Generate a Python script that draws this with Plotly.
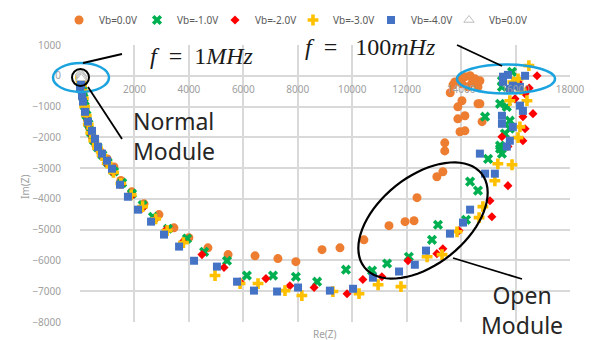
import math
import plotly.graph_objects as go

# ---------------- data (Re(Z), Im(Z)) ----------------
vb0_re = [15, 35, 55, 80, 110, 150, 200, 270, 350, 450, 580, 760, 1000, 1250, 1500, 1900, 2350, 2900,
          3450, 4000, 4700, 5440, 6430, 7270, 7930, 8890, 9550, 10430, 11350, 11940, 12270, 12380, 13110,
          13330, 13400, 13400, 13960, 14140, 13880, 14140, 14770, 14690, 14030, 13880, 13960, 14140, 14330,
          14510, 14690, 14030, 14250, 14400, 14620, 13770, 13600, 13700, 14620]
vb0_im = [-30, -130, -270, -430, -640, -880, -1150, -1420, -1700, -1980, -2250, -2480, -2700, -2960, -3400,
          -3770, -4160, -4510, -4940, -5260, -5590, -5810, -5850, -5940, -6040, -5650, -5590, -5330, -4870,
          -4740, -4710, -3960, -3280, -3120, -2440, -2180, -1820, -1790, -1400, -1300, -1490, -910, -810,
          -1010, -100, -30, 0, -100, -160, -260, -360, -230, -360, -200, -550, -300, -910]

vb1_re = [20, 40, 65, 95, 130, 175, 235, 310, 400, 510, 650, 820, 1020, 1250, 1550, 1910, 2300, 2680,
          3230, 3930, 4560, 5400, 6130, 7090, 7930, 8710, 9770, 10730, 11280, 12080, 12930, 13150, 14180,
          14330, 14620, 14990, 15430, 15500, 14880, 15430, 15680, 15500, 15500, 15790, 15790, 15870, 15610,
          15430]
vb1_im = [-50, -170, -310, -490, -720, -990, -1280, -1560, -1840, -2100, -2330, -2570, -2820, -3110, -3480,
          -3830, -4200, -4580, -4970, -5290, -5720, -6010, -6490, -6490, -6530, -6690, -6300, -6330, -6100,
          -5880, -5330, -4840, -4680, -3440, -3730, -2700, -2370, -2530, -1330, -910, -1010, -160, -360,
          -1460, -1720, 130, -1880, -2270]

vb2_re = [20, 40, 62, 92, 128, 172, 232, 300, 390, 500, 640, 800, 990, 1220, 1520, 1900, 2300, 2750,
          3160, 3780, 4480, 5290, 5880, 6830, 7710, 8600, 9810, 10390, 11090, 12050, 13110, 13330, 13920,
          15130, 15060, 15720, 15500, 16270, 16350, 16270, 16640, 16350, 16790, 15980, 15720, 16100, 16500]
vb2_im = [-55, -175, -320, -500, -740, -1010, -1300, -1590, -1870, -2120, -2360, -2600, -2860, -3150, -3530,
          -3900, -4300, -4680, -5000, -5390, -5810, -6230, -6690, -6590, -6820, -6880, -7080, -6620, -6530,
          -6010, -5780, -5620, -5030, -4580, -4060, -3570, -1980, -2110, -1720, -1330, -1230, -580, 0, -750,
          -2300, -200, -400]

vb3_re = [20, 40, 60, 90, 125, 170, 230, 305, 395, 505, 645, 810, 1000, 1230, 1500, 1880, 2300, 2780,
          3200, 3800, 4960, 5880, 6540, 7530, 8150, 9290, 10250, 10950, 11790, 12750, 13300, 13850, 14660,
          14800, 15240, 15350, 15870, 16090, 16160, 16420, 15790, 15900, 16090, 16490, 16200]
vb3_im = [-45, -165, -315, -500, -730, -1000, -1290, -1580, -1860, -2110, -2350, -2590, -2840, -3140, -3500,
          -3870, -4250, -4650, -5030, -5420, -6490, -6750, -6750, -6980, -7140, -7010, -7080, -6790, -6850,
          -5880, -5810, -5070, -4610, -4250, -3410, -2860, -2890, -2010, -1660, -810, -810, -200, -100, 330,
          -450]

vb4_re = [15, 30, 45, 0, 73, 110, 184, 294, 441, 551, 661, 808, 992, 1175, 1470, 1760, 2130, 2610, 3085,
          3640, 4190, 5030, 5770, 6390, 7240, 8010, 9180, 10030, 10760, 11720, 12300, 12710, 13590, 14070,
          14330, 14880, 15240, 14690, 15680, 15790, 15500, 15900, 15500, 16270, 16160, 15540, 15720, 16350,
          15900, 16160, 15540, 15790]
vb4_im = [-40, -150, -280, -420, -650, -840, -1170, -1490, -1790, -2050, -2310, -2530, -2760, -3020, -3540,
          -3930, -4350, -4740, -5160, -5550, -6010, -6200, -6690, -6980, -7010, -6880, -6980, -6920, -6560,
          -6360, -6140, -5680, -5130, -4770, -4350, -3180, -3180, -2530, -2300, -2110, -1560, -1660, -1300,
          -1140, -970, -30, 30, 0, -320, -360, -200, -420]

normal_re = [20, 40, 55, 60, 45]
normal_im = [100, 60, 20, -30, -80]

x_ticks = [0, 2000, 4000, 6000, 8000, 10000, 12000, 14000, 16000, 18000]
x_ticktext = ["", "2000", "4000", "6000", "8000", "10000", "12000", "14000", "16000", "18000"]
y_ticks = [1000, 0, -1000, -2000, -3000, -4000, -5000, -6000, -7000, -8000]

# ---------------- figure ----------------
W, H = 595, 340
L, R, T, B = 80, 25, 45, 18
PW, PH = W - L - R, H - T - B


def px(xp):
    return (xp - L) / PW


def py(yp):
    return (H - B - yp) / PH


fig = go.Figure()
series = [
    ("Vb=0.0V", vb0_re, vb0_im, dict(symbol="circle", size=9, color="#ED7D31")),
    ("Vb=-1.0V", vb1_re, vb1_im, dict(symbol="x", size=9, color="#00B050")),
    ("Vb=-2.0V", vb2_re, vb2_im, dict(symbol="diamond", size=7, color="#FF0000")),
    ("Vb=-3.0V", vb3_re, vb3_im, dict(symbol="cross", size=9, color="#FFC000")),
    ("Vb=-4.0V", vb4_re, vb4_im, dict(symbol="square", size=8, color="#4472C4")),
    ("Vb=0.0V", normal_re, normal_im, dict(symbol="triangle-up", size=9, color="#FFFFFF",
                                           line=dict(color="#BFBFBF", width=1))),
]
for name, xs, ys, mk in series:
    if "line" not in mk:
        mk = dict(mk, line=dict(width=0))
    fig.add_trace(go.Scatter(x=xs, y=ys, mode="markers", name=name, marker=mk, cliponaxis=False))

grid = "#D9D9D9"
fig.update_layout(
    width=W, height=H, margin=dict(l=L, r=R, t=T, b=B, autoexpand=False),
    paper_bgcolor="white", plot_bgcolor="white",
    font=dict(family="Noto Sans", size=10, color="#808080"),
    showlegend=True,
    legend=dict(orientation="h", x=px(59), xanchor="left", y=py(20), yanchor="middle",
                font=dict(size=10, color="#595959"), entrywidth=33, entrywidthmode="pixels",
                itemwidth=30, tracegroupgap=0),
    xaxis=dict(range=[0, 18000], tickvals=x_ticks, ticktext=x_ticktext, showgrid=True,
               gridcolor=grid, gridwidth=1.5, zeroline=False, anchor="free",
               position=8000 / 9000, showline=False, ticks="", ticklabelstandoff=6,
               tickfont=dict(size=10, color="#A0A0A0")),
    yaxis=dict(range=[-8000, 1000], tickvals=y_ticks, showgrid=True, gridcolor=grid,
               gridwidth=1.5, zeroline=False, showline=False, ticks="", ticklabelstandoff=18,
               tickfont=dict(size=10, color="#A0A0A0")),
)


def note(text, x, y, font, **kw):
    fig.add_annotation(text=text, xref="paper", yref="paper", x=px(x), y=py(y), showarrow=False,
                       xanchor=kw.pop("xanchor", "center"), yanchor="middle", font=font, **kw)


# axis titles
note("Re(Z)", 325, 334, dict(size=10, color="#A0A0A0"))
note("Im(Z)", 25, 187, dict(size=10, color="#A0A0A0"), textangle=-90)

# decorations
cyan = "#1AA3DF"


def ellipse_shape(cx, cy, rx, ry, color, width):
    return dict(type="circle", xref="paper", yref="paper", x0=px(cx - rx), x1=px(cx + rx),
                y0=py(cy + ry), y1=py(cy - ry), line=dict(color=color, width=width))


fig.add_shape(**ellipse_shape(81, 77.5, 28, 14.5, cyan, 2.5))
fig.add_shape(**ellipse_shape(80.5, 77.5, 8.5, 8.5, "black", 2))
fig.add_shape(**ellipse_shape(506, 79, 49, 14.5, cyan, 2.5))

# rotated ellipse (open module)
cx, cy, a, b, th = 423, 220.5, 75, 44, math.radians(38.7)
pts = []
for i in range(73):
    t = 2 * math.pi * i / 72
    ex = a * math.cos(t)
    ey = b * math.sin(t)
    xp = cx + ex * math.cos(th) - ey * math.sin(th)
    yp = cy - (ex * math.sin(th) + ey * math.cos(th))
    pts.append(f"{px(xp):.5f},{py(yp):.5f}")
fig.add_shape(type="path", xref="paper", yref="paper", path="M " + " L ".join(pts) + " Z",
              line=dict(color="black", width=2.2))

for (x0, y0, x1, y1) in [(83, 63, 122, 54), (88, 87, 122, 139), (457, 45, 502, 66), (453, 258, 522, 279)]:
    fig.add_shape(type="line", xref="paper", yref="paper", x0=px(x0), y0=py(y0), x1=px(x1), y1=py(y1),
                  line=dict(color="black", width=1.8))

mathfont = dict(family="Liberation Serif", size=24, color="#1A1A1A")
note("<i>f</i>&nbsp;&nbsp;=&nbsp;&nbsp;1<i>MHz</i>", 202, 56, mathfont)
note("<i>f</i>&nbsp;&nbsp;=&nbsp;&nbsp;&nbsp;100<i>mHz</i>", 370, 47, mathfont)
labfont = dict(family="Noto Sans", size=23, color="#262626")
note("Normal<br>Module", 131, 136, labfont, xanchor="left", align="left")
note("Open<br>Module", 522, 310, labfont, align="center")

fig.write_html("out.html", config={"displayModeBar": False},
               post_script="document.body.style.margin='0px';")
